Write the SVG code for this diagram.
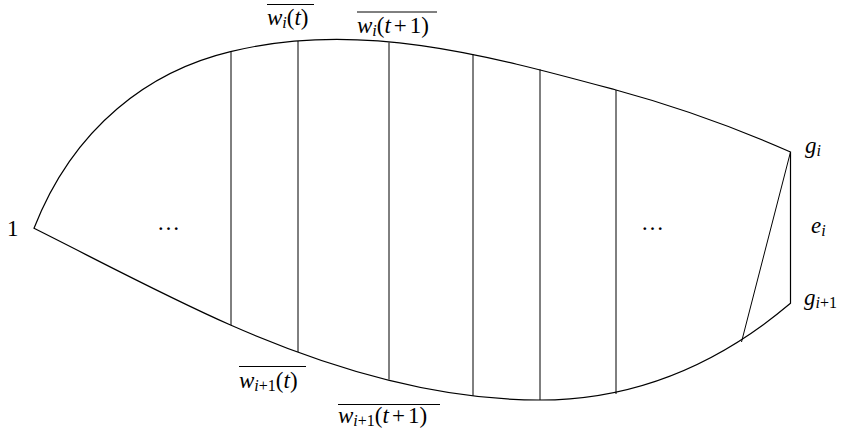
<svg xmlns="http://www.w3.org/2000/svg" width="844" height="432" viewBox="0 0 844 432">
<style>
.c{fill:none;stroke:#000;stroke-width:1.2}
.v{fill:none;stroke:#000;stroke-width:1}
.ov{stroke:#000;stroke-width:1}
</style>
<rect width="844" height="432" fill="#fff"/>
<g id="outline">
<path class="c" d="M34,228.3 C74,126 150.5,70.7 230.5,51.7 C358.5,19.7 488,55.4 616,90 C674,105.7 732,126.2 790.5,152 L790.5,303.3 C707,373.85 623,400 540,400 C437,400 333.5,370.3 230.5,325 C165.5,296.4 99,260.8 34,228.3 Z"/>
</g>
<g id="connectors">
<line class="v" x1="231" y1="51.5" x2="231" y2="325.2"/>
<line class="v" x1="298" y1="41" x2="298" y2="352"/>
<line class="v" x1="389" y1="42.5" x2="389" y2="379.5"/>
<line class="v" x1="473" y1="54.3" x2="473" y2="395.8"/>
<line class="v" x1="540" y1="69.3" x2="540" y2="400"/>
<line class="v" x1="616" y1="90" x2="616" y2="394"/>
<line class="v" x1="790.5" y1="152" x2="741.5" y2="342"/>
</g>
<g id="labels" font-family="Liberation Serif, Times New Roman, serif" font-size="23" fill="#000">
<text x="7" y="236">1</text>
<text x="157" y="230">…</text>
<text x="641" y="230">…</text>
<g id="g_i"><text x="805" y="153"><tspan font-style="italic">g</tspan><tspan font-style="italic" font-size="16" dy="3">i</tspan></text></g>
<g id="e_i"><text x="811" y="233"><tspan font-style="italic">e</tspan><tspan font-style="italic" font-size="16" dy="3">i</tspan></text></g>
<g id="g_i1"><text x="804" y="305"><tspan font-style="italic">g</tspan><tspan font-size="16" dy="3"><tspan font-style="italic">i</tspan>+1</tspan></text></g>
<g id="w_i_t">
<line class="ov" x1="267" y1="4.5" x2="314" y2="4.5"/>
<text x="267" y="25"><tspan font-style="italic">w</tspan><tspan font-style="italic" font-size="16" dy="3">i</tspan><tspan dy="-3">(</tspan><tspan font-style="italic">t</tspan>)</text>
</g>
<g id="w_i_t1">
<line class="ov" x1="357" y1="12" x2="437" y2="12"/>
<text x="357" y="33"><tspan font-style="italic">w</tspan><tspan font-style="italic" font-size="16" dy="3">i</tspan><tspan dy="-3">(</tspan><tspan font-style="italic">t</tspan><tspan dx="3">+</tspan><tspan dx="3">1)</tspan></text>
</g>
<g id="w_i1_t">
<line class="ov" x1="239" y1="366.5" x2="306" y2="366.5"/>
<text x="239" y="388"><tspan font-style="italic">w</tspan><tspan font-size="16" dy="3"><tspan font-style="italic">i</tspan>+1</tspan><tspan dy="-3">(</tspan><tspan font-style="italic">t</tspan>)</text>
</g>
<g id="w_i1_t1">
<line class="ov" x1="338" y1="404.5" x2="440" y2="404.5"/>
<text x="338" y="423"><tspan font-style="italic">w</tspan><tspan font-size="16" dy="3"><tspan font-style="italic">i</tspan>+1</tspan><tspan dy="-3">(</tspan><tspan font-style="italic">t</tspan><tspan dx="3">+</tspan><tspan dx="3">1)</tspan></text>
</g>
</g>
</svg>
